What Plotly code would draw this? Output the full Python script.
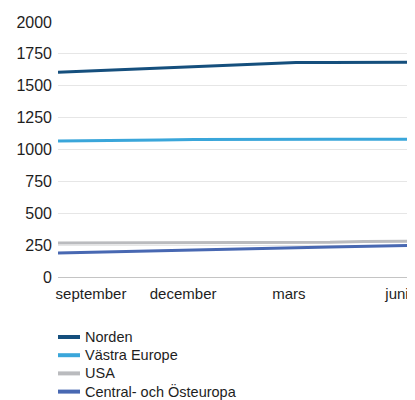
import plotly.graph_objects as go

# month index along the x axis (0 = start of chart)
months = [0, 1, 2, 3, 4, 5, 6, 7, 8, 9, 10, 10.5]

norden = [1605, 1616, 1627, 1638, 1649, 1660, 1671, 1682, 1682, 1683, 1684, 1684]
vastra_europa = [1067, 1068, 1072, 1075, 1078, 1080, 1081, 1081, 1081, 1081, 1081, 1081]
usa = [267, 267, 268, 268, 269, 269, 270, 270, 272, 279, 280, 280]
central_ost = [188, 193, 199, 205, 211, 217, 223, 229, 235, 241, 247, 249]

tick_pos = [0.97, 3.68, 6.79, 9.97]
tick_text = ["september", "december", "mars", "juni"]

series = [
    ("Norden", norden, "#154f7d"),
    ("Västra Europe", vastra_europa, "#3aa6da"),
    ("USA", usa, "#babbbe"),
    ("Central- och Östeuropa", central_ost, "#4868b2"),
]

# the page body adds an 8px margin, so the figure is sized 8px smaller
W, H = 407, 392
top, bottom, left = 14, 269, 50
plot_h = bottom - top
plot_w = W - left
font = "Liberation Sans, Arial, sans-serif"

fig = go.Figure()
for name, vals, color in series:
    fig.add_trace(go.Scatter(x=months, y=vals, name=name, mode="lines",
                             line=dict(color=color, width=3), showlegend=False))

# legend drawn below the plot, one row per series
row_y = 329
for name, _, color in series:
    yp = (bottom - row_y) / plot_h
    fig.add_shape(type="line", xref="paper", yref="paper",
                  x0=0, x1=22 / plot_w, y0=yp, y1=yp,
                  line=dict(color=color, width=4))
    fig.add_annotation(xref="paper", yref="paper", x=25 / plot_w, y=yp,
                       xanchor="left", yanchor="middle", text=name, showarrow=False,
                       font=dict(size=14.5, color="#1e1e1e"))
    row_y += 18.2

fig.update_layout(
    width=W,
    height=H,
    margin=dict(l=left, r=0, t=top, b=H - bottom, autoexpand=False),
    paper_bgcolor="white",
    plot_bgcolor="white",
    font=dict(family=font, size=15, color="#1e1e1e"),
    showlegend=False,
)
fig.update_xaxes(
    range=[0, 10.5], tickmode="array", tickvals=tick_pos, ticktext=tick_text,
    showgrid=False, zeroline=False, showline=False, ticks="",
    ticklabelstandoff=6,
)
fig.update_yaxes(
    range=[0, 2000], tickvals=[0, 250, 500, 750, 1000, 1250, 1500, 1750, 2000],
    showgrid=True, gridcolor="#e6e6e6", gridwidth=1,
    zeroline=True, zerolinecolor="#c4c4c4", zerolinewidth=1,
    ticks="", ticklabelstandoff=5, tickfont=dict(size=16),
)

fig.write_html("out.html")
